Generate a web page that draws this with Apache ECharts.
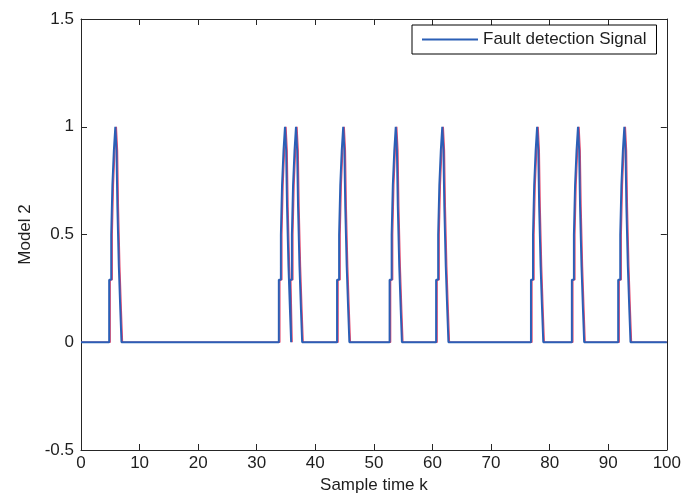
<!DOCTYPE html>
<html>
<head>
<meta charset="utf-8">
<script src="https://cdn.jsdelivr.net/npm/echarts@6/dist/echarts.min.js"></script>
<style>
html,body{margin:0;padding:0;background:#fff;}
#chart{width:684px;height:499px;}
</style>
</head>
<body>
<div id="chart"></div>
<script>
// ---- data ----
const spikeCenters = [5.96, 34.92, 36.8, 44.86, 53.83, 61.77, 77.96, 84.94, 92.85];
// staircase shape of one spike: x offset from peak and the level reached there
const stepOffsets = [-1.15, -0.8, -0.6, -0.35, -0.1, 0.1, 0.25, 0.5, 0.75, 0.95];
const stepLevels  = [0.29, 0.5, 0.73, 0.89, 1.0, 0.89, 0.63, 0.35, 0.15, 0];
const redShift = 0.18;          // red trace lies slightly to the right of the blue one
const xRange = [0, 100];
const xTicks = [0, 10, 20, 30, 40, 50, 60, 70, 80, 90, 100];
const yTicks = [-0.5, 0, 0.5, 1, 1.5];

function buildTrace(shift) {
  const pts = [[xRange[0], 0]];
  spikeCenters.forEach(c => {
    let level = 0;
    stepOffsets.forEach((off, i) => {
      const x = c + off + shift;
      pts.push([x, level]);
      pts.push([x, stepLevels[i]]);
      level = stepLevels[i];
    });
  });
  pts.push([xRange[1], 0]);
  return pts;
}

const font = 'Liberation Sans, Arial, sans-serif';
const txt = '#1e1e1e';
const axisCol = '#262626';
const blue = '#2b5fb6';

const chart = echarts.init(document.getElementById('chart'), null, {renderer: 'canvas'});
chart.setOption({
  animation: false,
  backgroundColor: '#fff',
  textStyle: {fontFamily: font},
  grid: {left: 81, right: 16, top: 19, bottom: 49, containLabel: false},
  legend: {
    show: true,
    data: [{name: 'Fault detection Signal', icon: 'rect', itemStyle: {color: blue}}],
    left: 412, top: 25,
    orient: 'horizontal',
    backgroundColor: '#fff',
    borderColor: '#000', borderWidth: 1, borderRadius: 0,
    padding: [6, 10, 6, 10],
    itemWidth: 56, itemHeight: 2, itemGap: 0,
    textStyle: {fontSize: 17, color: txt, fontFamily: font},
    selectedMode: false
  },
  xAxis: [{
    type: 'value', min: xTicks[0], max: xTicks[xTicks.length - 1], interval: 10,
    name: 'Sample time k', nameLocation: 'middle', nameGap: 26,
    nameTextStyle: {fontSize: 17, color: txt, fontFamily: font},
    axisLine: {show: true, onZero: false, lineStyle: {color: axisCol, width: 1}},
    axisTick: {show: true, inside: true, length: 6, lineStyle: {color: axisCol}},
    axisLabel: {fontSize: 17, color: txt, margin: 5, fontFamily: font},
    splitLine: {show: false}
  }, {
    type: 'value', position: 'top', min: xTicks[0], max: xTicks[xTicks.length - 1], interval: 10,
    axisLine: {show: true, onZero: false, lineStyle: {color: axisCol, width: 1}},
    axisTick: {show: true, inside: true, length: 6, lineStyle: {color: axisCol}},
    axisLabel: {show: false}, splitLine: {show: false}
  }],
  yAxis: [{
    type: 'value', min: yTicks[0], max: yTicks[yTicks.length - 1], interval: 0.5,
    name: 'Model 2', nameLocation: 'middle', nameGap: 47, nameRotate: 90,
    nameTextStyle: {fontSize: 17, color: txt, fontFamily: font},
    axisLine: {show: true, onZero: false, lineStyle: {color: axisCol, width: 1}},
    axisTick: {show: true, inside: true, length: 6, lineStyle: {color: axisCol}},
    axisLabel: {fontSize: 17, color: txt, margin: 7, fontFamily: font},
    splitLine: {show: false}
  }, {
    type: 'value', position: 'right', min: yTicks[0], max: yTicks[yTicks.length - 1], interval: 0.5,
    axisLine: {show: true, onZero: false, lineStyle: {color: axisCol, width: 1}},
    axisTick: {show: true, inside: true, length: 6, lineStyle: {color: axisCol}},
    axisLabel: {show: false}, splitLine: {show: false}
  }],
  series: [{
    name: 'red trace',
    type: 'line', xAxisIndex: 0, yAxisIndex: 0,
    data: buildTrace(redShift),
    symbol: 'none', showSymbol: false, smooth: false, clip: true,
    lineStyle: {color: '#e2486e', width: 1.3},
    z: 2
  }, {
    name: 'Fault detection Signal',
    type: 'line', xAxisIndex: 0, yAxisIndex: 0,
    data: buildTrace(0),
    symbol: 'none', showSymbol: false, smooth: false, clip: true,
    lineStyle: {color: blue, width: 2},
    itemStyle: {color: blue},
    z: 3
  }]
});
</script>
</body>
</html>
